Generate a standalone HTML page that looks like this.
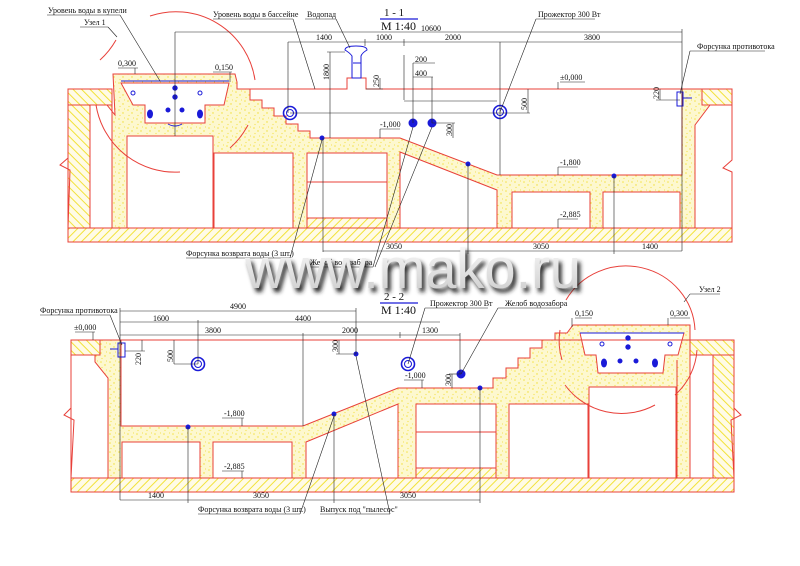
<!DOCTYPE html>
<html><head><meta charset="utf-8"><style>
html,body{margin:0;padding:0;background:#fff;}
svg{display:block;}
text{font-family:"Liberation Serif",serif;font-size:8px;fill:#111;}
</style></head><body>
<svg width="800" height="566" viewBox="0 0 800 566" xmlns="http://www.w3.org/2000/svg">
<defs>
<pattern id="hatch" width="6" height="6" patternUnits="userSpaceOnUse" patternTransform="rotate(45)">
<rect width="6" height="6" fill="#fffbe6"/><line x1="0" y1="0" x2="0" y2="6" stroke="#f2e23a" stroke-width="2"/>
</pattern>
<pattern id="hatch2" width="6" height="6" patternUnits="userSpaceOnUse" patternTransform="rotate(-45)">
<rect width="6" height="6" fill="#fffbe6"/><line x1="0" y1="0" x2="0" y2="6" stroke="#f2e23a" stroke-width="2"/>
</pattern>
<pattern id="conc" width="9" height="9" patternUnits="userSpaceOnUse">
<rect width="9" height="9" fill="#fdf8cf"/>
<circle cx="2" cy="2" r="0.8" fill="#f5e34a"/><circle cx="6" cy="5" r="0.7" fill="#f0dd30"/><circle cx="3" cy="7.5" r="0.6" fill="#f5e34a"/><circle cx="7.5" cy="1" r="0.5" fill="#efd92a"/>
</pattern>
<filter id="blur"><feGaussianBlur stdDeviation="2.2"/></filter>
<linearGradient id="wg" x1="0" y1="0" x2="0" y2="1"><stop offset="0" stop-color="#fff"/><stop offset="1" stop-color="#c8c8c8"/></linearGradient>
</defs>

<g stroke="#e8403a" stroke-width="1">
<!-- ===== SECTION 1 ===== -->
<rect x="68" y="228" width="664" height="14" fill="url(#hatch)"/>
<rect x="68" y="89" width="22" height="139" fill="url(#hatch2)"/>
<rect x="68" y="89" width="44" height="16" fill="url(#hatch2)"/>
<rect x="90" y="105" width="22" height="123" fill="#fff"/>
<polygon fill="url(#conc)" points="112,105 107,105 115,115 113,74 235,74 237,82 237,89 250,89 250,100 262,100 262,108 274,108 274,116 286,116 286,124 298,124 298,131 310,131 310,138 400,138 497,175 682,175 682,89 702,89 702,105 710,105 695,125 695,228 112,228"/>
<rect x="702" y="89" width="30" height="16" fill="url(#hatch2)"/>
<polyline fill="none" points="695,125 695,228"/>
<polyline fill="none" points="732,105 732,160 723,168 732,172 732,228"/>
<polyline fill="none" points="68,89 68,158 60,165 70,170 68,228"/>
<polygon fill="#fff" points="121,83 229,83 224,105 205,105 205,123 145,123 145,105 133,105"/>
<rect x="127" y="136" width="86" height="92" fill="#fff"/>
<rect x="214" y="153" width="79" height="75" fill="#fff"/>
<rect x="307" y="153" width="80" height="75" fill="#fff"/>
<rect x="307" y="218" width="80" height="10" fill="url(#hatch)"/>
<line x1="307" y1="182" x2="387" y2="182"/>
<polygon fill="#fff" points="400,152 497,190 497,228 400,228"/>
<rect x="512" y="192" width="78" height="36" fill="#fff"/>
<rect x="603" y="192" width="77" height="36" fill="#fff"/>
<polyline fill="none" points="237,89 347,89 347,78 366,78 366,89 682,89"/>
<!-- Узел 1 arcs -->
<path fill="none" d="M100,60 A80,80 0 0 0 116,40"/>
<path fill="none" d="M150,16 A80,80 0 0 1 255,80"/>
<path fill="none" d="M96,105 A80,80 0 0 0 180,172"/>
<path fill="none" d="M230,148 A80,80 0 0 0 248,125"/>

<!-- ===== SECTION 2 ===== -->
<rect x="71" y="478" width="663" height="14" fill="url(#hatch)"/>
<rect x="71" y="340" width="29" height="15" fill="url(#hatch2)"/>
<rect x="71" y="355" width="37" height="123" fill="#fff"/>
<polyline fill="none" points="71,355 71,408 64,415 74,420 71,478"/>
<polygon fill="url(#conc)" points="100,340 121,340 121,426 303,426 398,388 493,388 493,378 506,378 506,368 518,368 518,358 530,358 530,348 542,348 542,340 555,340 555,333 567,333 573,325 690,325 690,478 108,478 108,378 95,362 95,355 100,355"/>
<rect x="690" y="340" width="44" height="15" fill="url(#hatch2)"/>
<rect x="713" y="355" width="21" height="123" fill="url(#hatch2)"/>
<rect x="690" y="355" width="23" height="123" fill="#fff"/>
<polyline fill="none" points="734,355 734,408 741,415 731,420 734,478"/>
<polygon fill="#fff" points="580,333 684,333 678,355 665,355 663,373 598,373 596,355 585,355"/>
<rect x="122" y="442" width="78" height="36" fill="#fff"/>
<rect x="213" y="442" width="79" height="36" fill="#fff"/>
<polygon fill="#fff" points="306,442 398,404 398,478 306,478"/>
<rect x="416" y="404" width="80" height="74" fill="#fff"/>
<rect x="416" y="468" width="80" height="10" fill="url(#hatch)"/>
<line x1="416" y1="432" x2="496" y2="432"/>
<rect x="509" y="404" width="79" height="74" fill="#fff"/>
<rect x="589" y="387" width="87" height="91" fill="#fff"/>
<line x1="677" y1="360" x2="677" y2="478"/>
<line x1="121" y1="340" x2="690" y2="340"/>
<!-- Узел 2 arcs -->
<path fill="none" d="M566,300 A69,67 0 0 1 695,330"/>
<path fill="none" d="M697,350 A69,67 0 0 1 675,395"/>
<path fill="none" d="M655,405 A69,67 0 0 1 565,385"/>
<path fill="none" d="M562,360 A69,67 0 0 1 560,330"/>
</g>

<!-- blue elements -->
<g fill="#1a1ad8" stroke="#1a1ad8">
<line x1="121" y1="81" x2="229" y2="81" stroke-width="1"/>
<circle cx="175" cy="88" r="2.2"/><circle cx="175" cy="97" r="2.2"/><circle cx="168" cy="110" r="2"/><circle cx="182" cy="110" r="2"/>
<circle cx="133" cy="93" r="2" fill="none"/><circle cx="200" cy="93" r="2" fill="none"/>
<ellipse cx="150" cy="114" rx="2.5" ry="4"/><ellipse cx="200" cy="114" rx="2.5" ry="4"/>
<path d="M168,124 q7,4 14,0" fill="none"/>
<circle cx="413" cy="123" r="4"/><circle cx="432" cy="123" r="4"/>
<circle cx="290" cy="113" r="6.5" fill="none" stroke-width="1.6"/><circle cx="290" cy="113" r="3.5" fill="none"/>
<circle cx="500" cy="112" r="6.5" fill="none" stroke-width="1.6"/><circle cx="500" cy="112" r="3.5" fill="none"/>
<circle cx="322" cy="138" r="2"/><circle cx="468" cy="164" r="2"/><circle cx="614" cy="176" r="2"/>
<path d="M345,50 q0,-4 11,-4 q11,0 11,4 q-5,3 -6,6 l0,22 l-9,0 l0,-22 q-2,-3 -7,-6z" fill="none"/>
<line x1="353" y1="63" x2="361" y2="63"/>
<rect x="677" y="92" width="6" height="14" fill="none"/><line x1="683" y1="98" x2="692" y2="98"/>
<line x1="580" y1="333" x2="684" y2="333"/>
<circle cx="628" cy="338" r="2.2"/><circle cx="628" cy="347" r="2.2"/><circle cx="620" cy="361" r="2"/><circle cx="636" cy="361" r="2"/>
<circle cx="602" cy="344" r="2" fill="none"/><circle cx="670" cy="344" r="2" fill="none"/>
<ellipse cx="604" cy="363" rx="2.5" ry="4"/><ellipse cx="655" cy="363" rx="2.5" ry="4"/>
<circle cx="198" cy="364" r="6.5" fill="none" stroke-width="1.6"/><circle cx="198" cy="364" r="3.5" fill="none"/>
<circle cx="408" cy="364" r="6.5" fill="none" stroke-width="1.6"/><circle cx="408" cy="364" r="3.5" fill="none"/>
<circle cx="461" cy="374" r="4"/><circle cx="356" cy="354" r="2"/>
<circle cx="188" cy="427" r="2"/><circle cx="334" cy="414" r="2"/><circle cx="480" cy="388" r="2"/>
<rect x="118" y="343" width="7" height="14" fill="none"/><line x1="110" y1="349" x2="118" y2="349"/>
<line x1="380" y1="19" x2="418" y2="19" stroke-width="1.2"/>
<line x1="380" y1="303" x2="418" y2="303" stroke-width="1.2"/>
</g>

<!-- dimension & leader lines -->
<g stroke="#222" stroke-width="0.6" fill="none">
<line x1="175" y1="32" x2="682" y2="32"/><line x1="175" y1="32" x2="175" y2="136"/><line x1="682" y1="29" x2="682" y2="251"/>
<line x1="288" y1="42" x2="682" y2="42"/><line x1="288" y1="42" x2="288" y2="113"/><line x1="365" y1="39" x2="365" y2="46"/><line x1="404" y1="39" x2="404" y2="46"/><line x1="500" y1="42" x2="500" y2="175"/>
<line x1="330" y1="52" x2="330" y2="138"/><line x1="327" y1="52" x2="345" y2="52"/>
<line x1="380" y1="78" x2="380" y2="89"/><line x1="366" y1="89" x2="383" y2="89"/>
<line x1="404" y1="55" x2="404" y2="100"/><line x1="404" y1="101" x2="497" y2="101"/>
<line x1="413" y1="63" x2="435" y2="63"/><line x1="413" y1="63" x2="413" y2="123"/>
<line x1="413" y1="77" x2="433" y2="77"/><line x1="432" y1="77" x2="432" y2="123"/>
<line x1="432" y1="123" x2="455" y2="123"/><line x1="453" y1="123" x2="453" y2="138"/>
<line x1="290" y1="113" x2="530" y2="113"/><line x1="528" y1="89" x2="528" y2="113"/>
<line x1="660" y1="89" x2="660" y2="100"/><line x1="656" y1="100" x2="680" y2="100"/>
<line x1="323" y1="138" x2="323" y2="252"/><line x1="323" y1="251" x2="682" y2="251"/><line x1="468" y1="164" x2="468" y2="254"/><line x1="614" y1="176" x2="614" y2="254"/>
<!-- leaders sec1 -->
<line x1="47" y1="15" x2="120" y2="15"/><line x1="120" y1="15" x2="160" y2="81"/>
<line x1="80" y1="27" x2="108" y2="27"/><line x1="108" y1="27" x2="117" y2="37"/>
<line x1="213" y1="19" x2="293" y2="19"/><line x1="293" y1="19" x2="315" y2="89"/>
<line x1="305" y1="19" x2="336" y2="19"/><line x1="336" y1="19" x2="350" y2="48"/>
<line x1="536" y1="19" x2="595" y2="19"/><line x1="536" y1="19" x2="500" y2="112"/>
<line x1="690" y1="51" x2="765" y2="51"/><line x1="690" y1="51" x2="680" y2="94"/>
<line x1="118" y1="68" x2="138" y2="68"/><line x1="135" y1="68" x2="135" y2="74"/>
<line x1="213" y1="72" x2="232" y2="72"/><line x1="230" y1="72" x2="230" y2="82"/>
<line x1="560" y1="82" x2="585" y2="82"/><line x1="558" y1="82" x2="558" y2="89"/>
<line x1="380" y1="129" x2="400" y2="129"/><line x1="380" y1="129" x2="380" y2="138"/>
<line x1="558" y1="167" x2="578" y2="167"/><line x1="558" y1="167" x2="558" y2="175"/>
<line x1="558" y1="219" x2="578" y2="219"/><line x1="558" y1="219" x2="558" y2="228"/>
<line x1="186" y1="258" x2="290" y2="258"/><line x1="290" y1="258" x2="322" y2="140"/>
<line x1="310" y1="267" x2="373" y2="267"/><line x1="373" y1="267" x2="413" y2="127"/><line x1="375" y1="267" x2="432" y2="127"/>
<!-- sec2 -->
<line x1="120" y1="311" x2="356" y2="311"/><line x1="356" y1="308" x2="356" y2="354"/>
<line x1="120" y1="322" x2="440" y2="322"/><line x1="198" y1="320" x2="198" y2="364"/><line x1="120" y1="308" x2="120" y2="500"/>
<line x1="120" y1="335" x2="460" y2="335"/><line x1="303" y1="333" x2="303" y2="426"/><line x1="400" y1="332" x2="400" y2="338"/><line x1="460" y1="333" x2="460" y2="374"/>
<line x1="174" y1="364" x2="198" y2="364"/><line x1="174" y1="340" x2="174" y2="364"/>
<line x1="142" y1="340" x2="142" y2="351"/><line x1="125" y1="351" x2="145" y2="351"/>
<line x1="339" y1="340" x2="339" y2="354"/><line x1="336" y1="354" x2="356" y2="354"/>
<line x1="452" y1="374" x2="452" y2="388"/><line x1="449" y1="374" x2="461" y2="374"/>
<line x1="120" y1="500" x2="480" y2="500"/><line x1="188" y1="427" x2="188" y2="503"/><line x1="334" y1="414" x2="334" y2="503"/><line x1="480" y1="388" x2="480" y2="503"/>
<line x1="40" y1="315" x2="110" y2="315"/><line x1="110" y1="315" x2="122" y2="345"/>
<line x1="75" y1="332" x2="95" y2="332"/><line x1="93" y1="332" x2="93" y2="340"/>
<line x1="425" y1="308" x2="488" y2="308"/><line x1="425" y1="308" x2="408" y2="364"/>
<line x1="498" y1="308" x2="560" y2="308"/><line x1="498" y1="308" x2="461" y2="374"/>
<line x1="404" y1="380" x2="424" y2="380"/><line x1="422" y1="380" x2="422" y2="388"/>
<line x1="222" y1="418" x2="244" y2="418"/><line x1="242" y1="418" x2="242" y2="426"/>
<line x1="222" y1="471" x2="244" y2="471"/><line x1="242" y1="471" x2="242" y2="478"/>
<line x1="198" y1="514" x2="300" y2="514"/><line x1="300" y1="514" x2="334" y2="416"/>
<line x1="320" y1="514" x2="390" y2="514"/><line x1="390" y1="514" x2="356" y2="356"/>
<line x1="575" y1="318" x2="592" y2="318"/><line x1="572" y1="318" x2="572" y2="327"/>
<line x1="670" y1="318" x2="690" y2="318"/><line x1="668" y1="318" x2="668" y2="325"/>
<line x1="690" y1="294" x2="720" y2="294"/><line x1="690" y1="294" x2="684" y2="302"/>
</g>

<!-- text -->
<g>
<text x="48" y="13">Уровень воды в купели</text>
<text x="84" y="25">Узел 1</text>
<text x="213" y="17">Уровень воды в бассейне</text>
<text x="307" y="17">Водопад</text>
<text x="384" y="16" style="font-size:11px">1 - 1</text>
<text x="381" y="30" style="font-size:12px">М 1:40</text>
<text x="421" y="31">10600</text>
<text x="538" y="17">Прожектор 300 Вт</text>
<text x="697" y="49">Форсунка противотока</text>
<text x="316" y="40">1400</text><text x="376" y="40">1000</text><text x="445" y="40">2000</text><text x="584" y="40">3800</text>
<text x="118" y="66">0,300</text><text x="215" y="70">0,150</text>
<text x="415" y="62">200</text><text x="415" y="76">400</text>
<text x="560" y="80">±0,000</text>
<text x="380" y="127">-1,000</text><text x="560" y="165">-1,800</text><text x="560" y="217">-2,885</text>
<text x="386" y="249">3050</text><text x="533" y="249">3050</text><text x="642" y="249">1400</text>
<text x="186" y="256">Форсунка возврата воды (3 шт.)</text>
<text x="310" y="265">Желоб водозабора</text>
<text transform="translate(329,80) rotate(-90)">1800</text>
<text transform="translate(379,87) rotate(-90)">250</text>
<text transform="translate(452,136) rotate(-90)">300</text>
<text transform="translate(527,110) rotate(-90)">500</text>
<text transform="translate(659,99) rotate(-90)">220</text>

<text x="384" y="300" style="font-size:11px">2 - 2</text>
<text x="381" y="314" style="font-size:12px">М 1:40</text>
<text x="430" y="306">Прожектор 300 Вт</text>
<text x="505" y="306">Желоб водозабора</text>
<text x="40" y="313">Форсунка противотока</text>
<text x="74" y="330">±0,000</text>
<text x="230" y="309">4900</text><text x="153" y="321">1600</text><text x="295" y="321">4400</text>
<text x="205" y="333">3800</text><text x="342" y="333">2000</text><text x="422" y="333">1300</text>
<text x="405" y="378">-1,000</text><text x="224" y="416">-1,800</text><text x="224" y="469">-2,885</text>
<text x="148" y="498">1400</text><text x="253" y="498">3050</text><text x="400" y="498">3050</text>
<text x="198" y="512">Форсунка возврата воды (3 шт.)</text>
<text x="320" y="512">Выпуск под "пылесос"</text>
<text x="699" y="292">Узел 2</text>
<text x="575" y="316">0,150</text><text x="670" y="316">0,300</text>
<text transform="translate(173,362) rotate(-90)">500</text>
<text transform="translate(141,365) rotate(-90)">220</text>
<text transform="translate(338,352) rotate(-90)">300</text>
<text transform="translate(451,386) rotate(-90)">300</text>
</g>

<!-- watermark -->
<g style="font-family:'Liberation Sans',sans-serif;font-size:57px">
<text x="248" y="292" textLength="336" lengthAdjust="spacingAndGlyphs" style="font-family:'Liberation Sans',sans-serif;font-size:57px;fill:#222" filter="url(#blur)">www.mako.ru</text>
<text x="245" y="288" textLength="336" lengthAdjust="spacingAndGlyphs" style="font-family:'Liberation Sans',sans-serif;font-size:57px;fill:url(#wg)">www.mako.ru</text>
</g>
</svg>
</body></html>
